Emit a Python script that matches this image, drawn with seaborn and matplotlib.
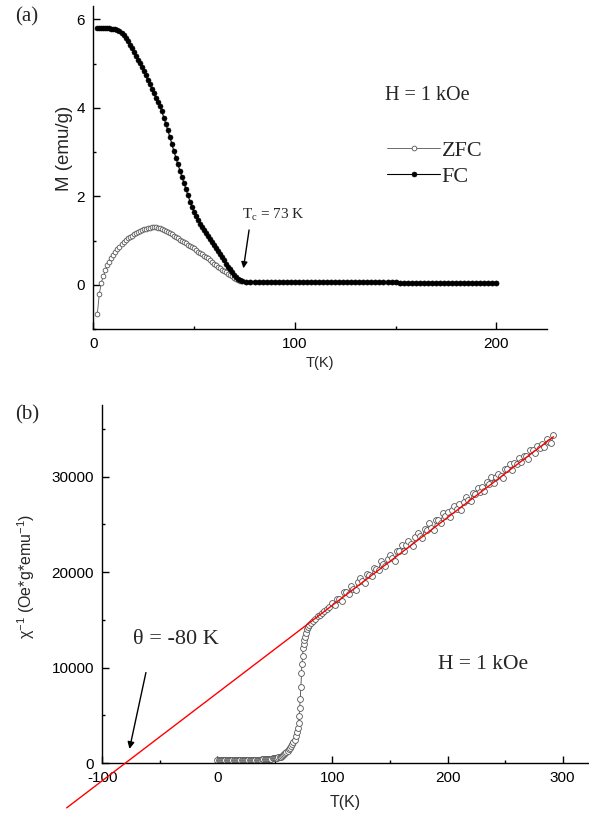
import numpy as np
import pandas as pd
import matplotlib
matplotlib.use('Agg')
import matplotlib.pyplot as plt
from matplotlib.ticker import MultipleLocator
import seaborn as sns

# ---- panel (a): M vs T, ZFC / FC at H = 1 kOe
T_a = [2, 3, 4, 5, 6, 7, 8, 9, 10, 11, 12, 13, 14, 15, 16, 17, 18, 19, 20, 21,
       22, 23, 24, 25, 26, 27, 28, 29, 30, 31, 32, 33, 34, 35, 36, 37, 38, 39, 40, 41,
       42, 43, 44, 45, 46, 47, 48, 49, 50, 51, 52, 53, 54, 55, 56, 57, 58, 59, 60, 61,
       62, 63, 64, 65, 66, 67, 68, 69, 70, 71, 72, 73, 74,
       76, 78, 80, 82, 84, 86, 88, 90, 92, 94, 96, 98, 100, 102, 104, 106, 108, 110,
       112, 114, 116, 118, 120, 122, 124, 126, 128, 130, 132, 134, 136, 138, 140, 142,
       144, 146, 148, 150, 152, 154, 156, 158, 160, 162, 164, 166, 168, 170, 172, 174,
       176, 178, 180, 182, 184, 186, 188, 190, 192, 194, 196, 198, 200]

M_zfc = [-0.66, -0.20, 0.05, 0.20, 0.33, 0.44, 0.52, 0.60, 0.67, 0.74, 0.80, 0.86, 0.92, 0.97, 1.01, 1.05, 1.08, 1.11, 1.14, 1.16,
         1.19, 1.21, 1.23, 1.25, 1.27, 1.28, 1.29, 1.30, 1.30, 1.30, 1.29, 1.28, 1.26, 1.24, 1.22, 1.20, 1.17, 1.14, 1.11, 1.08,
         1.05, 1.02, 1.00, 0.97, 0.94, 0.91, 0.88, 0.85, 0.82, 0.78, 0.75, 0.72, 0.69, 0.66, 0.63, 0.60, 0.56, 0.52, 0.48, 0.44,
         0.40, 0.37, 0.34, 0.31, 0.28, 0.25, 0.22, 0.19, 0.16, 0.13, 0.11, 0.09, 0.08,
         0.06, 0.06, 0.06, 0.06, 0.06, 0.06, 0.06, 0.06, 0.06, 0.06, 0.06, 0.06, 0.06,
         0.055, 0.055, 0.055, 0.055, 0.055, 0.055, 0.055, 0.055, 0.055, 0.055, 0.055, 0.055, 0.055,
         0.055, 0.055, 0.055, 0.055, 0.055, 0.055, 0.055, 0.055, 0.055, 0.055, 0.055, 0.055,
         0.05, 0.05, 0.05, 0.05, 0.05, 0.05, 0.05, 0.05, 0.05, 0.05, 0.05, 0.05, 0.05,
         0.05, 0.05, 0.05, 0.05, 0.05, 0.05, 0.05, 0.05, 0.05, 0.05, 0.05, 0.05]

M_fc = [5.80, 5.80, 5.80, 5.80, 5.80, 5.80, 5.80, 5.79, 5.79, 5.78, 5.76, 5.73, 5.69, 5.64, 5.58, 5.51, 5.43, 5.35, 5.27, 5.18,
        5.09, 5.01, 4.92, 4.83, 4.73, 4.63, 4.53, 4.43, 4.33, 4.23, 4.13, 4.03, 3.92, 3.78, 3.64, 3.49, 3.34, 3.18, 3.02, 2.87,
        2.72, 2.58, 2.44, 2.30, 2.16, 2.02, 1.88, 1.76, 1.65, 1.55, 1.46, 1.38, 1.31, 1.24, 1.17, 1.10, 1.03, 0.96, 0.90, 0.83,
        0.76, 0.69, 0.62, 0.55, 0.48, 0.41, 0.35, 0.29, 0.23, 0.18, 0.13, 0.10, 0.08,
        0.07, 0.07, 0.07, 0.07, 0.07, 0.07, 0.07, 0.07, 0.07, 0.07, 0.07, 0.07, 0.07,
        0.06, 0.06, 0.06, 0.06, 0.06, 0.06, 0.06, 0.06, 0.06, 0.06, 0.06, 0.06, 0.06,
        0.06, 0.06, 0.06, 0.06, 0.06, 0.06, 0.06, 0.06, 0.06, 0.06, 0.06, 0.06,
        0.05, 0.05, 0.05, 0.05, 0.05, 0.05, 0.05, 0.05, 0.05, 0.05, 0.05, 0.05, 0.05,
        0.05, 0.05, 0.05, 0.05, 0.05, 0.05, 0.05, 0.05, 0.05, 0.05, 0.05, 0.05]

# ---- panel (b): inverse susceptibility and Curie-Weiss fit
T_b = [0, 1, 2, 3, 4, 5, 6, 7, 8, 9, 10, 11, 12, 13, 14, 15, 16, 17, 18, 19,
       20, 21, 22, 23, 24, 25, 26, 27, 28, 29, 30, 31, 32, 33, 34, 35, 36, 37, 38, 39,
       40, 41, 42, 43, 44, 45, 46, 47, 48, 49, 50, 51, 52, 53, 54, 55,
       56, 57, 58, 59, 60, 61, 62, 63, 64, 65, 66, 67, 68, 69, 70,
       70.5, 71, 71.5, 72, 72.5, 73, 73.5, 74, 74.5, 75, 75.5, 76, 77, 78, 79, 80,
       81.5, 83, 85, 87, 89, 91, 93, 95, 97,
       100, 102, 104, 106, 108, 110, 112, 114, 116, 118, 120, 122, 124, 126, 128, 130,
       132, 134, 136, 138, 140, 142, 144, 146, 148, 150, 152, 154, 156, 158, 160, 162,
       164, 166, 168, 170, 172, 174, 176, 178, 180, 182, 184, 186, 188, 190, 192, 194,
       196, 198, 200, 202, 204, 206, 208, 210, 212, 214, 216, 218, 220, 222, 224, 226,
       228, 230, 232, 234, 236, 238, 240, 242, 244, 246, 248, 250, 252, 254, 256, 258,
       260, 262, 264, 266, 268, 270, 272, 274, 276, 278, 280, 282, 284, 286, 288, 290, 292]

chi_inv = [340, 320, 310, 300, 300, 290, 290, 290, 280, 280, 280, 270, 270, 270, 270, 270, 270, 270, 270, 270,
           270, 270, 280, 280, 280, 290, 290, 290, 300, 300, 300, 310, 310, 320, 320, 330, 340, 350, 360, 370,
           380, 390, 400, 410, 420, 430, 445, 460, 480, 500, 520, 540, 560, 590, 620, 660,
           720, 800, 900, 1010, 1130, 1270, 1430, 1600, 1780, 1980, 2200, 2450, 2800, 3200, 3700,
           4200, 4900, 5800, 6700, 8000, 9400, 10400, 11200, 12000, 12500, 12900, 13200, 13650, 14000, 14250, 14480,
           14700, 14880, 15100, 15350, 15550, 15720, 15900, 16100, 16300,
           16710, 16540, 17230, 17210, 16950, 17880, 17910, 17750, 18530, 18220, 18150, 18930, 19370, 19100, 18840, 19770,
           19700, 19540, 20420, 20360, 20190, 21120, 20860, 20590, 21380, 21810, 21440, 21180, 22210, 22200, 22880, 22160,
           22800, 23230, 22970, 22750, 23630, 24070, 23750, 23590, 24470, 24400, 25190, 24570, 24360, 25440, 25420, 25110,
           26140, 25830, 26260, 25740, 26480, 26960, 26600, 27130, 26510, 27350, 27830, 27570, 27450, 28280, 28220, 28850,
           28340, 28920, 28450, 29440, 29270, 29910, 29340, 29970, 30310, 30090, 29880, 30810, 30790, 31330, 30710, 31400,
           31330, 31960, 31500, 32180, 32170, 31850, 32780, 32770, 32500, 33240, 33020, 33450, 33090, 33920, 33660, 33540, 34320]

fit_T = [-131, 292]
fit_chi = [-4700, 34180]

# ---- style
sns.set_style('ticks')
plt.rcParams['font.family'] = ['Liberation Sans', 'DejaVu Sans']
plt.rcParams['axes.unicode_minus'] = False
plt.rcParams['mathtext.fontset'] = 'custom'
plt.rcParams['mathtext.rm'] = 'Liberation Sans'
serif = ['Liberation Serif', 'DejaVu Serif']

fig = plt.figure(figsize=(5.89, 8.13), dpi=100)
ax1 = fig.add_axes([0.1584, 0.5953, 0.7698, 0.3973])
ax2 = fig.add_axes([0.1737, 0.0615, 0.8246, 0.4403])

for ax in (ax1, ax2):
    sns.despine(ax=ax)
    for s in ('left', 'bottom'):
        ax.spines[s].set_linewidth(1.0)
        ax.spines[s].set_color('black')
    ax.tick_params(which='both', direction='in', width=1, colors='black', labelsize=11, pad=6)
    ax.tick_params(which='major', length=5)
    ax.tick_params(which='minor', length=2.5)

# panel (a)
sns.lineplot(x=T_a, y=M_zfc, ax=ax1, sort=False, estimator=None, color='#555555', lw=0.6,
             marker='o', markersize=3.4, mfc='white', mec='#555555', mew=0.6, label='ZFC')
sns.lineplot(x=T_a, y=M_fc, ax=ax1, sort=False, estimator=None, color='black', lw=0.8,
             marker='o', markersize=3.6, mfc='black', mec='black', mew=0.4, label='FC')
ax1.set_xlim(0, 225)
ax1.set_ylim(-1, 6.3)
ax1.xaxis.set_major_locator(MultipleLocator(100))
ax1.xaxis.set_minor_locator(MultipleLocator(50))
ax1.yaxis.set_major_locator(MultipleLocator(2))
ax1.yaxis.set_minor_locator(MultipleLocator(1))
ax1.set_xlabel('T(K)', fontsize=10.5, labelpad=3)
ax1.set_ylabel('M (emu/g)', fontsize=13.5)
ax1.yaxis.set_label_coords(-0.045, 0.56)
handles = ax1.get_lines()[:2]
ax1.legend(handles, ['ZFC', 'FC'], loc='center left', bbox_to_anchor=(0.648, 0.512),
           frameon=False, prop={'family': serif, 'size': 16}, handlelength=2.4,
           handletextpad=0.05, labelspacing=0.25, borderpad=0, borderaxespad=0)
ax1.text(145, 4.27, 'H = 1 kOe', family=serif, fontsize=14.5, va='center', ha='left')
ax1.text(73.8, 1.58, r'$\mathregular{T_c}$ = 73 K', family=serif, fontsize=11, va='center', ha='left')
ax1.annotate('', xy=(74.3, 0.31), xytext=(77.5, 1.3),
             arrowprops=dict(arrowstyle='-|>', color='black', lw=1, mutation_scale=9))

# panel (b)
sns.lineplot(x=T_b, y=chi_inv, ax=ax2, sort=False, estimator=None, color='#444444', lw=0.6,
             marker='o', markersize=4.2, mfc='white', mec='#555555', mew=0.6)
sns.lineplot(x=fit_T, y=fit_chi, ax=ax2, sort=False, estimator=None, color='#ff0000', lw=1.0)
ax2.get_lines()[-1].set_clip_on(False)
ax2.get_lines()[-1].set_zorder(5)
ax2.set_xlim(-100, 322)
ax2.set_ylim(0, 37500)
ax2.xaxis.set_major_locator(MultipleLocator(100))
ax2.xaxis.set_minor_locator(MultipleLocator(50))
ax2.yaxis.set_major_locator(MultipleLocator(10000))
ax2.yaxis.set_minor_locator(MultipleLocator(5000))
ax2.set_xlabel('T(K)', fontsize=11.5, labelpad=7)
ax2.set_ylabel(r'χ$\mathregular{^{-1}}$ (Oe*g*emu$\mathregular{^{-1}}$)', fontsize=11.5)
ax2.yaxis.set_label_coords(-0.134, 0.52)
ax2.text(-36, 12900, 'θ = -80 K', family=serif, fontsize=16, va='center', ha='center')
ax2.text(231, 10280, 'H = 1 kOe', family=serif, fontsize=15.5, va='center', ha='center')
ax2.annotate('', xy=(-76.9, 1190), xytext=(-61.6, 9760),
             arrowprops=dict(arrowstyle='-|>', color='black', lw=1, mutation_scale=10))

fig.text(0.0255, 0.9797, '(a)', family=serif, fontsize=15, va='center', ha='left')
fig.text(0.0255, 0.4896, '(b)', family=serif, fontsize=15, va='center', ha='left')

fig.savefig('out.png', dpi=100)
